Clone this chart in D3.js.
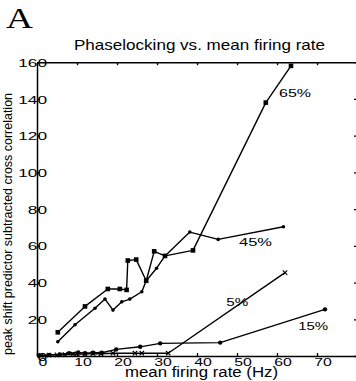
<!DOCTYPE html>
<html><head><meta charset="utf-8">
<script src="https://cdn.jsdelivr.net/npm/d3@7"></script>
<style>
html,body{margin:0;padding:0;background:#fff;}
svg{display:block;}
</style></head>
<body>
<svg id="chart" width="356" height="381" font-family="Liberation Sans, Arial, sans-serif"></svg>
<script>
// ---------- data ----------
const xTicks = [0, 10, 20, 30, 40, 50, 60, 70];
const yTicks = [0, 20, 40, 60, 80, 100, 120, 140, 160];
const title = "Phaselocking vs. mean firing rate";
const xLabel = "mean firing rate (Hz)";
const yLabel = "peak shift predictor subtracted cross correlation";
const panelLetter = "A";

const s65x = [5.2, 12, 17.7, 20.7, 22.4, 22.7, 24.8, 27.3, 29.3, 32, 39, 57.2, 63.5];
const s65y = [12.9, 27, 36.5, 36.5, 36, 52, 52.5, 41, 57, 54.5, 57.5, 138, 158];

const s45x = [5.2, 9.5, 14.5, 17, 19, 21.2, 23.2, 26.2, 27.3, 29.9, 32, 38.2, 45.3, 61.6];
const s45y = [7.8, 17, 26, 31, 25, 29.5, 31, 35, 41, 47.8, 54.5, 67.5, 63.5, 70.4];

const s5x = [1, 3, 5, 7, 9, 10, 12, 14, 16, 19, 24.5, 26.2, 32.8, 62];
const s5y = [0.3, 0.5, 0.6, 0.8, 1, 1.2, 1, 1.3, 1.2, 1.5, 1.5, 1.5, 1.5, 45.4];

const s15x = [0.5, 3, 5.75, 8, 10.3, 12, 14, 16.2, 19.8, 25.8, 30.8, 45.8, 72];
const s15y = [0.2, 0.6, 0.9, 1.5, 2, 1.5, 1.8, 1.8, 3.6, 5, 6.9, 7.3, 25.4];

const seriesNames = ["65%", "45%", "5%", "15%"];
// label anchors in data units (left/baseline)
const labelX = [60.5, 50.5, 47.3, 65.3];
const labelY = [141, 60, 27.2, 14.2];

// ---------- layout ----------
const svg = d3.select("#chart");
const x = d3.scaleLinear().domain([0, 80]).range([37, 357]);
const y = d3.scaleLinear().domain([0, 160]).range([356, 62.2]);

const series = [
  {xs: s65x, ys: s65y, marker: "square"},
  {xs: s45x, ys: s45y, marker: "dot"},
  {xs: s5x,  ys: s5y,  marker: "cross"},
  {xs: s15x, ys: s15y, marker: "circle"}
];

function styleAxis(g) {
  g.selectAll("path.domain").attr("stroke", "#000").attr("stroke-width", 1.5);
  g.selectAll(".tick line").attr("stroke", "#000").attr("stroke-width", 1.3);
}

const gLeft = svg.append("g").attr("transform", `translate(${x(0)},0)`)
  .call(d3.axisLeft(y).tickValues(yTicks).tickSizeInner(-3).tickSizeOuter(0).tickPadding(-10))
  .call(styleAxis);
gLeft.selectAll("text")
  .attr("font-family", "Liberation Sans, Arial, sans-serif")
  .attr("font-size", 11.5)
  .attr("fill", "#000")
  .attr("text-anchor", "end")
  .attr("dy", "0.36em")
  .attr("textLength", d => String(d).length * 9.6)
  .attr("lengthAdjust", "spacingAndGlyphs");

const gBottom = svg.append("g").attr("transform", `translate(0,${y(0)})`)
  .call(d3.axisBottom(x).tickValues(xTicks).tickSizeInner(-3).tickSizeOuter(0).tickPadding(1.5))
  .call(styleAxis);
gBottom.selectAll("text")
  .attr("font-family", "Liberation Sans, Arial, sans-serif")
  .attr("font-size", 11.5)
  .attr("fill", "#000")
  .attr("x", 5.5)
  .attr("textLength", d => String(d).length * 8.8)
  .attr("lengthAdjust", "spacingAndGlyphs");

svg.append("g").attr("transform", `translate(0,${y(160)})`)
  .call(d3.axisTop(x).tickValues(xTicks.slice(1)).tickSizeInner(-3).tickSizeOuter(0).tickFormat(""))
  .call(styleAxis);

svg.append("g").attr("transform", `translate(${x(80)},0)`)
  .call(d3.axisRight(y).tickValues(yTicks).tickSizeInner(-3).tickSizeOuter(0).tickFormat(""))
  .call(styleAxis);

// lines + markers
const line = d3.line().x(d => x(d[0])).y(d => y(d[1]));
series.forEach((s) => {
  const pts = s.xs.map((v, k) => [v, s.ys[k]]);
  svg.append("path").datum(pts)
    .attr("fill", "none").attr("stroke", "#000").attr("stroke-width", 1.4)
    .attr("stroke-linejoin", "round")
    .attr("d", line);
  const g = svg.append("g");
  pts.forEach(p => {
    const cx = x(p[0]), cy = y(p[1]);
    if (s.marker === "square") {
      g.append("rect").attr("x", cx - 2.3).attr("y", cy - 2.3).attr("width", 4.6).attr("height", 4.6).attr("fill", "#000");
    } else if (s.marker === "dot") {
      g.append("circle").attr("cx", cx).attr("cy", cy).attr("r", 1.8).attr("fill", "#000");
    } else if (s.marker === "cross") {
      g.append("path").attr("d", `M${cx-2.2},${cy-2.2}L${cx+2.2},${cy+2.2}M${cx-2.2},${cy+2.2}L${cx+2.2},${cy-2.2}`)
        .attr("stroke", "#000").attr("stroke-width", 1.2);
    } else {
      g.append("circle").attr("cx", cx).attr("cy", cy).attr("r", 2.2).attr("fill", "#000");
    }
  });
});

// series labels
const labelLen = [32, 33, 22, 30];
seriesNames.forEach((n, i) => {
  svg.append("text").attr("x", x(labelX[i])).attr("y", y(labelY[i]))
    .attr("font-size", 11.5)
    .attr("textLength", labelLen[i]).attr("lengthAdjust", "spacingAndGlyphs")
    .text(n);
});

// title
svg.append("text").attr("x", 74).attr("y", 50)
  .attr("font-size", 15).attr("textLength", 251).attr("lengthAdjust", "spacingAndGlyphs")
  .text(title);

// x label
svg.append("text").attr("x", 125).attr("y", 377)
  .attr("font-size", 14).attr("textLength", 153).attr("lengthAdjust", "spacingAndGlyphs")
  .text(xLabel);

// y label
svg.append("text").attr("transform", "translate(12,224) rotate(-90)")
  .attr("text-anchor", "middle")
  .attr("font-size", 12.5).attr("textLength", 262).attr("lengthAdjust", "spacingAndGlyphs")
  .text(yLabel);

// panel letter
svg.append("text").attr("x", 6).attr("y", 28)
  .attr("font-family", "Liberation Serif, Times New Roman, serif")
  .attr("font-size", 29).attr("textLength", 27).attr("lengthAdjust", "spacingAndGlyphs")
  .text(panelLetter);
</script>
</body></html>
